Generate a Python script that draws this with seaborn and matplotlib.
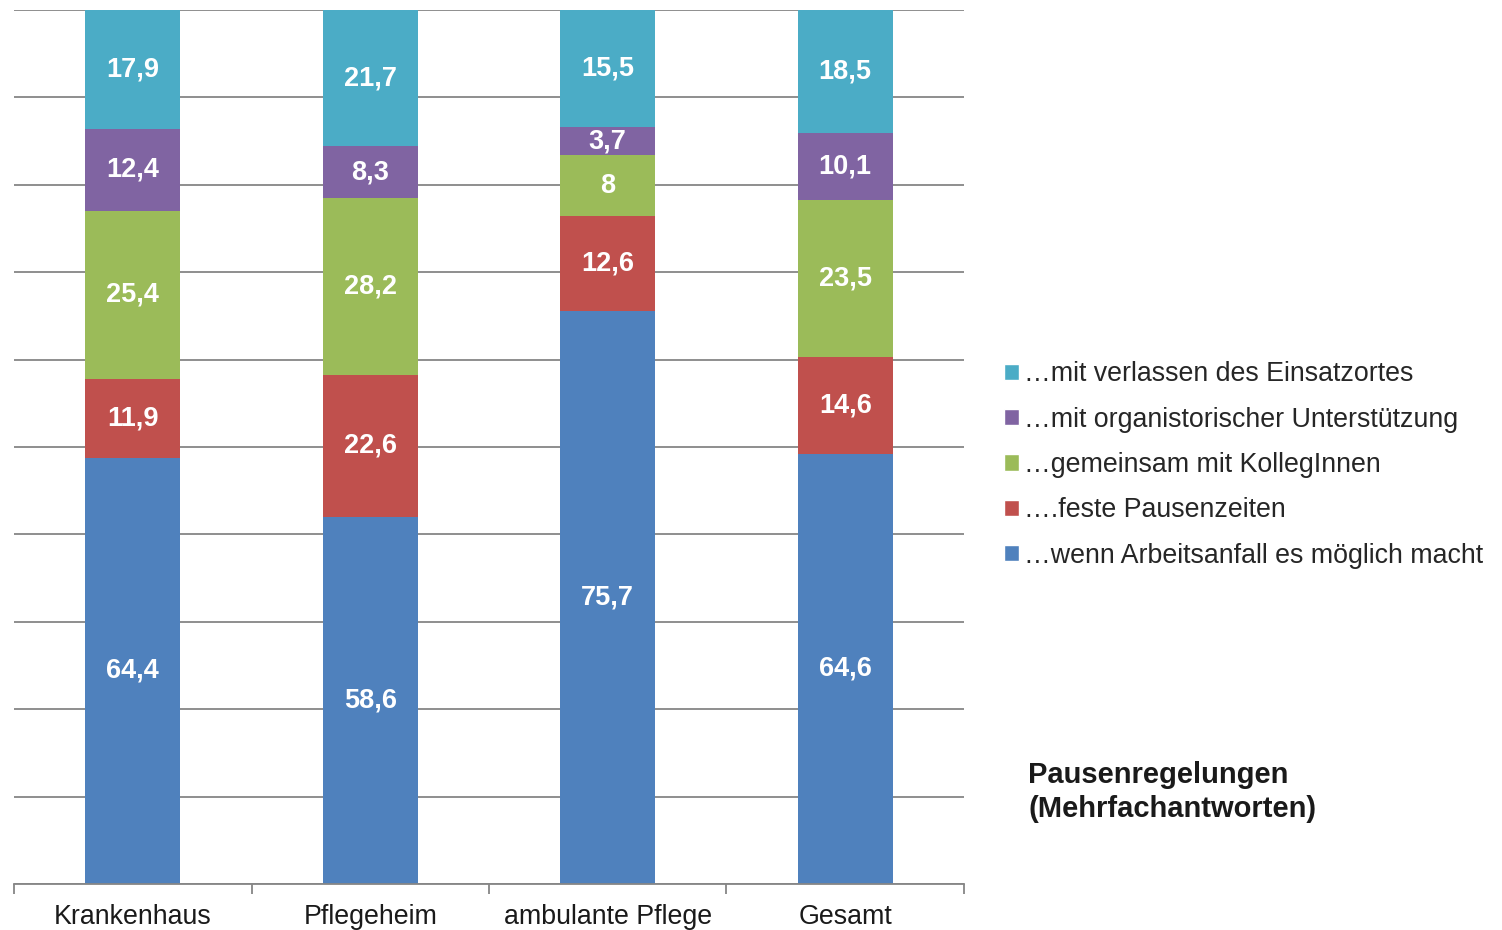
import numpy as np
import pandas as pd
import seaborn as sns
import matplotlib.pyplot as plt
from matplotlib.patches import Patch

# --- Data ---
categories = ['Krankenhaus', 'Pflegeheim', 'ambulante Pflege', 'Gesamt']
arbeitsanfall = [64.4, 58.6, 75.7, 64.6]
feste_zeiten = [11.9, 22.6, 12.6, 14.6]
gemeinsam = [25.4, 28.2, 8, 23.5]
organisatorisch = [12.4, 8.3, 3.7, 10.1]
verlassen = [17.9, 21.7, 15.5, 18.5]

series_names = ['…wenn Arbeitsanfall es möglich macht',
                '….feste Pausenzeiten',
                '…gemeinsam mit KollegInnen',
                '…mit organistorischer Unterstützung',
                '…mit verlassen des Einsatzortes']
colors = ['#4F81BD', '#C0504D', '#9BBB59', '#8064A2', '#4BACC6']

df = pd.DataFrame({'Kategorie': categories,
                   series_names[0]: arbeitsanfall,
                   series_names[1]: feste_zeiten,
                   series_names[2]: gemeinsam,
                   series_names[3]: organisatorisch,
                   series_names[4]: verlassen})

# normalize to 100 % stacked
vals = df[series_names].to_numpy(dtype=float)
pct = vals / vals.sum(axis=1, keepdims=True) * 100
cum = np.cumsum(pct, axis=1)

sns.set_style('white')
plt.rcParams['font.family'] = ['Liberation Sans', 'DejaVu Sans']

fig = plt.figure(figsize=(15.02, 9.30), dpi=100)
ax = fig.add_axes([14 / 1502, 1 - 884 / 930, 950 / 1502, 874 / 930])

# draw stacked bars from the top layer down
for i in range(len(series_names) - 1, -1, -1):
    layer = pd.DataFrame({'Kategorie': categories, 'wert': cum[:, i]})
    sns.barplot(data=layer, x='Kategorie', y='wert', color=colors[i],
                width=0.4, saturation=1, linewidth=0, ax=ax, zorder=2)

# value labels
for j in range(len(categories)):
    for i in range(len(series_names)):
        mid = cum[j, i] - pct[j, i] / 2
        v = vals[j, i]
        txt = str(int(v)) if v == int(v) else f'{v:.1f}'.replace('.', ',')
        ax.text(j, mid, txt, ha='center', va='center', color='white',
                fontsize=19.5, fontweight='bold', zorder=3)

ax.set_ylim(0, 100)
ax.set_xlim(-0.5, 3.5)
ax.set_yticks(np.arange(0, 101, 10))
ax.yaxis.grid(True, color='#868686', linewidth=1.3, zorder=0)
ax.set_axisbelow(True)
ax.tick_params(axis='y', left=False, labelleft=False)
ax.set_xlabel('')
ax.set_ylabel('')
for s in ['top', 'right', 'left']:
    ax.spines[s].set_visible(False)
ax.spines['bottom'].set_color('#868686')
ax.spines['bottom'].set_linewidth(1.3)
ax.set_xticks(range(len(categories)))
ax.set_xticklabels(categories, fontsize=19.3, color='#1a1a1a')
ax.tick_params(axis='x', which='major', bottom=True, length=0, pad=14.5)
ax.set_xticks(np.arange(-0.5, 4, 1), minor=True)
ax.tick_params(axis='x', which='minor', bottom=True, length=7, width=1.3,
               color='#868686')

# legend (reversed order)
handles = [Patch(facecolor=colors[i], label=series_names[i])
           for i in range(len(series_names) - 1, -1, -1)]
fig.legend(handles=handles, loc='center left',
           bbox_to_anchor=(1004 / 1502, 1 - 465 / 930), frameon=False,
           fontsize=19.3, handlelength=0.55, handleheight=0.55,
           handletextpad=0.2, labelspacing=0.72, borderaxespad=0,
           borderpad=0)

fig.text(1028 / 1502, 1 - 792 / 930, 'Pausenregelungen\n(Mehrfachantworten)',
         fontsize=21, fontweight='bold', va='center', ha='left',
         linespacing=1.28, color='#1a1a1a')

fig.savefig('out.png', dpi=100)
